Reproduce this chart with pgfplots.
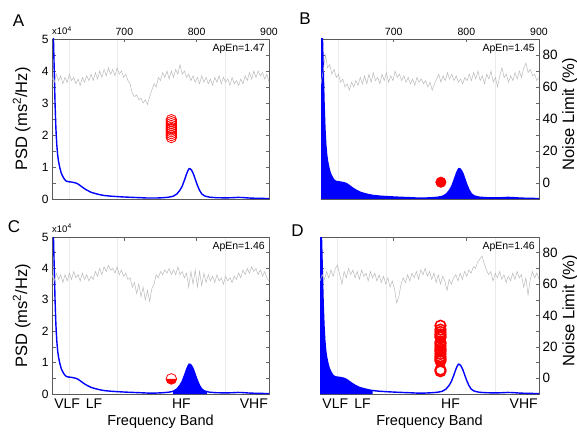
\documentclass[border=0pt]{standalone}
\usepackage{fontspec}
\setmainfont{Liberation Sans}
\usepackage{pgfplots}
\usepackage{pgfplotstable}
\pgfplotsset{compat=1.18}
\usetikzlibrary{plotmarks}

% PSD spectrum (Hz, x10^4 ms^2/Hz), same in all four panels
\pgfplotstableread{
f p
0.000 9.0
0.002 6.5
0.003 5.2
0.005 4.1
0.007 3.0
0.009 2.2
0.011 1.7
0.013 1.38
0.015 1.18
0.018 0.98
0.021 0.82
0.025 0.70
0.029 0.61
0.033 0.56
0.038 0.54
0.045 0.53
0.052 0.51
0.057 0.49
0.062 0.45
0.068 0.39
0.074 0.33
0.080 0.28
0.090 0.21
0.100 0.17
0.110 0.135
0.120 0.11
0.134 0.09
0.150 0.075
0.170 0.06
0.187 0.05
0.205 0.04
0.220 0.03
0.240 0.03
0.255 0.04
0.268 0.055
0.279 0.085
0.288 0.16
0.295 0.28
0.300 0.40
0.306 0.62
0.310 0.78
0.313 0.88
0.316 0.95
0.319 0.94
0.322 0.89
0.326 0.78
0.330 0.62
0.335 0.43
0.340 0.27
0.345 0.16
0.351 0.10
0.357 0.075
0.364 0.055
0.380 0.04
0.400 0.035
0.415 0.04
0.428 0.05
0.440 0.045
0.455 0.03
0.475 0.02
0.500 0.015
}\psd

\pgfplotsset{
  base/.style={scale only axis, anchor=north west,
    /pgf/number format/assume math mode=true,
    tick style={black!60, line width=0.5pt},
    major tick length=3.5pt, minor tick length=3.5pt,
    label style={font=\fontsize{16.5}{16.5}\selectfont}},
  psdax/.style={base, xmin=0, xmax=0.5, ymin=0, ymax=5,
    ytick={0,1,2,3,4,5}, minor y tick num=1,
    xtick={0.04,0.15,0.4}, xticklabels={},
    xmajorgrids, major grid style={black!8, line width=0.4pt},
    xtick style={draw=none},
    axis line style={black!65, line width=0.6pt},
    yticklabel style={font=\fontsize{12}{12}\selectfont},
    xticklabel style={font=\fontsize{14}{14}\selectfont, yshift=-1pt}},
  bands/.style={extra x ticks={0.035,0.097,0.298,0.465},
    extra x tick labels={VLF,LF,HF,VHF},
    extra x tick style={grid=none, tick style={draw=none}},
    xlabel={Frequency Band},
    xlabel style={at={(axis description cs:0.5,-0.175)}, anchor=center,
      font=\fontsize{14.5}{14.5}\selectfont}},
  psdlab/.style={ylabel={PSD (ms\textsuperscript{2}/Hz)},
    ylabel style={at={(axis description cs:-0.14,0.5)}, anchor=center}},
  noiseax/.style={base, xmin=600, xmax=900, ymin=-10, ymax=90,
    axis x line*=top, axis y line*=right, axis line style={draw=none},
    xtick={700,800,900}, tick align=inside, ytick=\empty,
    ytick style={draw=none},
    xticklabel style={font=\fontsize{10.5}{10.5}\selectfont},
    yticklabel style={font=\fontsize{13.5}{13.5}\selectfont}},
  noiselab/.style={ytick={0,20,40,60,80}, ylabel={Noise Limit (\%)},
    ylabel style={at={(axis description cs:1.142,0.53)}, anchor=center}},
  trace/.style={black!27, line width=0.5pt},
}

\begin{document}
\begin{tikzpicture}
\useasboundingbox (0,0) rectangle (577pt,-433pt);

% ---------------- A ----------------
\begin{axis}[psdax, psdlab, at={(52pt,-39pt)}, width=217pt, height=160pt]
  \addplot[blue, line width=1.4pt] table[x=f, y=p] {\psd};
\end{axis}
\begin{axis}[noiseax, at={(52pt,-39pt)}, width=217pt, height=160pt]
  \addplot[trace] table[row sep=\\] {x y\\
600 66\\ 603 63\\ 606 68\\ 609 64\\ 612 67\\ 615 62\\ 618 66\\ 621 63\\ 624 68\\ 627 64\\
630 66\\ 633 62\\ 636 65\\ 639 61\\ 642 66\\ 645 63\\ 648 67\\ 651 64\\ 654 68\\ 657 64\\
660 69\\ 663 65\\ 666 70\\ 669 66\\ 672 71\\ 675 67\\ 678 72\\ 681 68\\ 684 71\\ 687 67\\
690 72\\ 693 68\\ 696 70\\ 699 66\\ 702 68\\ 705 64\\ 708 62\\ 711 56\\ 714 54\\ 717 55\\
720 52\\ 723 53\\ 726 50\\ 729 52\\ 732 49\\ 735 54\\ 738 58\\ 741 62\\ 744 60\\ 747 66\\
750 64\\ 753 69\\ 756 66\\ 759 70\\ 762 65\\ 765 70\\ 768 66\\ 771 71\\ 774 68\\ 777 74\\
780 68\\ 783 70\\ 786 66\\ 789 68\\ 792 64\\ 795 67\\ 798 63\\ 801 66\\ 804 62\\ 807 67\\
810 63\\ 813 66\\ 816 62\\ 819 65\\ 822 61\\ 825 66\\ 828 63\\ 831 67\\ 834 62\\ 837 66\\
840 63\\ 843 65\\ 846 61\\ 849 66\\ 852 62\\ 855 64\\ 858 61\\ 861 65\\ 864 62\\ 867 67\\
870 64\\ 873 69\\ 876 65\\ 879 70\\ 882 66\\ 885 70\\ 888 67\\ 891 69\\ 894 65\\ 897 68\\
900 63\\};
  \addplot[only marks, mark=o, red, mark size=5.3pt, line width=0.8pt] table[row sep=\\] {x y\\
765 28.5\\ 765 29.7\\ 765 30.9\\ 765 32.1\\ 765 33.2\\ 765 34\\ 765 34.8\\ 765 35.9\\ 765 37.1\\ 765 38.3\\ 765 39.5\\};
\end{axis}

% ---------------- B ----------------
\begin{axis}[psdax, yticklabels={}, at={(321pt,-39pt)}, width=218pt, height=160pt]
  \addplot[draw=none, fill=blue] table[x=f, y=p] {\psd} \closedcycle;
  \addplot[blue, line width=1.4pt] table[x=f, y=p] {\psd};
\end{axis}
\begin{axis}[noiseax, noiselab, at={(321pt,-39pt)}, width=218pt, height=160pt]
  \addplot[trace] table[row sep=\\] {x y\\
600 62\\ 603 70\\ 606 80\\ 609 72\\ 612 74\\ 615 68\\ 618 71\\ 621 66\\ 624 68\\ 627 63\\
630 65\\ 633 60\\ 636 62\\ 639 58\\ 642 63\\ 645 60\\ 648 64\\ 651 61\\ 654 66\\ 657 62\\
660 67\\ 663 62\\ 666 68\\ 669 63\\ 672 69\\ 675 64\\ 678 66\\ 681 62\\ 684 68\\ 687 64\\
690 69\\ 693 63\\ 696 67\\ 699 64\\ 702 70\\ 705 66\\ 708 68\\ 711 64\\ 714 67\\ 717 63\\
720 66\\ 723 62\\ 726 65\\ 729 61\\ 732 66\\ 735 63\\ 738 65\\ 741 62\\ 744 64\\ 747 60\\
750 63\\ 753 58\\ 756 62\\ 759 65\\ 762 68\\ 765 63\\ 768 67\\ 771 64\\ 774 69\\ 777 65\\
780 68\\ 783 64\\ 786 67\\ 789 63\\ 792 65\\ 795 62\\ 798 66\\ 801 64\\ 804 68\\ 807 64\\
810 69\\ 813 65\\ 816 70\\ 819 64\\ 822 67\\ 825 62\\ 828 68\\ 831 65\\ 834 70\\ 837 63\\
840 66\\ 843 60\\ 846 67\\ 849 72\\ 852 66\\ 855 68\\ 858 63\\ 861 67\\ 864 64\\ 867 69\\
870 65\\ 873 70\\ 876 66\\ 879 72\\ 882 75\\ 885 69\\ 888 71\\ 891 67\\ 894 68\\ 897 64\\
900 66\\};
  \addplot[only marks, mark=*, red, mark size=5.3pt] coordinates {(765,0.5)};
\end{axis}

% ---------------- C ----------------
\begin{axis}[psdax, psdlab, bands, at={(52pt,-237pt)}, width=217pt, height=157pt]
  \addplot[draw=none, fill=blue, restrict x to domain=0.279:0.357] table[x=f, y=p] {\psd} \closedcycle;
  \addplot[blue, line width=1.4pt] table[x=f, y=p] {\psd};
\end{axis}
\begin{axis}[noiseax, xticklabels={}, at={(52pt,-237pt)}, width=217pt, height=157pt]
  \addplot[trace] table[row sep=\\] {x y\\
600 66\\ 603 62\\ 606 67\\ 609 63\\ 612 66\\ 615 61\\ 618 66\\ 621 62\\ 624 67\\ 627 63\\
630 68\\ 633 64\\ 636 66\\ 639 62\\ 642 67\\ 645 63\\ 648 66\\ 651 62\\ 654 65\\ 657 63\\
660 68\\ 663 65\\ 666 70\\ 669 66\\ 672 71\\ 675 68\\ 678 72\\ 681 69\\ 684 70\\ 687 67\\
690 71\\ 693 66\\ 696 69\\ 699 65\\ 702 67\\ 705 63\\ 708 64\\ 711 58\\ 714 61\\ 717 54\\
720 60\\ 723 52\\ 726 58\\ 729 50\\ 732 56\\ 735 49\\ 738 57\\ 741 60\\ 744 66\\ 747 64\\
750 68\\ 753 66\\ 756 69\\ 759 67\\ 762 70\\ 765 66\\ 768 69\\ 771 66\\ 774 71\\ 777 66\\
780 68\\ 783 64\\ 786 67\\ 789 58\\ 792 68\\ 795 60\\ 798 69\\ 801 58\\ 804 68\\ 807 59\\
810 67\\ 813 61\\ 816 66\\ 819 62\\ 822 65\\ 825 61\\ 828 66\\ 831 62\\ 834 64\\ 837 60\\
840 65\\ 843 62\\ 846 64\\ 849 61\\ 852 65\\ 855 63\\ 858 67\\ 861 64\\ 864 69\\ 867 66\\
870 70\\ 873 67\\ 876 71\\ 879 68\\ 882 70\\ 885 66\\ 888 69\\ 891 65\\ 894 68\\ 897 64\\
900 62\\};
  \addplot[only marks, mark=halfcircle*, mark size=5.3pt, line width=0.8pt,
    mark options={draw=red, fill=white, mark color=red}] coordinates {(765,-0.4)};
\end{axis}

% ---------------- D ----------------
\begin{axis}[psdax, yticklabels={}, bands, at={(320pt,-237pt)}, width=219pt, height=157pt]
  \addplot[draw=none, fill=blue, restrict x to domain=0:0.12] table[x=f, y=p] {\psd} \closedcycle;
  \addplot[blue, line width=1.4pt] table[x=f, y=p] {\psd};
\end{axis}
\begin{axis}[noiseax, noiselab, xticklabels={}, at={(320pt,-237pt)}, width=219pt, height=157pt]
  \addplot[trace] table[row sep=\\] {x y\\
600 62\\ 603 66\\ 606 63\\ 609 68\\ 612 64\\ 615 69\\ 618 65\\ 621 70\\ 624 72\\ 627 66\\
630 60\\ 633 68\\ 636 64\\ 639 70\\ 642 66\\ 645 69\\ 648 64\\ 651 68\\ 654 63\\ 657 69\\
660 65\\ 663 67\\ 666 62\\ 669 68\\ 672 64\\ 675 67\\ 678 62\\ 681 66\\ 684 61\\ 687 65\\
690 60\\ 693 64\\ 696 58\\ 699 62\\ 702 57\\ 705 48\\ 708 52\\ 711 60\\ 714 64\\ 717 61\\
720 66\\ 723 62\\ 726 67\\ 729 64\\ 732 68\\ 735 63\\ 738 69\\ 741 66\\ 744 70\\ 747 65\\
750 68\\ 753 63\\ 756 67\\ 759 61\\ 762 66\\ 765 60\\ 768 65\\ 771 62\\ 774 56\\ 777 63\\
780 60\\ 783 64\\ 786 66\\ 789 62\\ 792 67\\ 795 63\\ 798 68\\ 801 65\\ 804 69\\ 807 67\\
810 71\\ 813 70\\ 816 74\\ 819 76\\ 822 78\\ 825 73\\ 828 69\\ 831 66\\ 834 68\\ 837 62\\
840 67\\ 843 64\\ 846 68\\ 849 63\\ 852 66\\ 855 61\\ 858 65\\ 861 62\\ 864 67\\ 867 63\\
870 68\\ 873 64\\ 876 66\\ 879 58\\ 882 64\\ 885 53\\ 888 63\\ 891 68\\ 894 64\\ 897 67\\
900 63\\};
  \addplot[only marks, mark=o, red, mark size=5.3pt, line width=1.6pt] table[row sep=\\] {x y\\
765 4.5\\ 765 5.5\\ 765 11\\ 765 12\\ 765 13\\ 765 14\\ 765 15.5\\ 765 17\\ 765 18\\ 765 19\\
765 20.5\\ 765 22\\ 765 23\\ 765 26\\ 765 27\\ 765 28\\ 765 29.5\\ 765 31\\ 765 33.5\\};
\end{axis}

% panel letters and annotations
\begin{scope}[font=\fontsize{17}{17}\selectfont]
  \node at (18.5pt,-21pt) {A};
  \node at (305pt,-18.5pt) {B};
  \node at (14pt,-226.5pt) {C};
  \node at (297.5pt,-231pt) {D};
\end{scope}
\begin{scope}[font=\fontsize{9.5}{9.5}\selectfont, inner sep=0pt]
  \node[anchor=base west] at (52pt,-35pt) {x10\textsuperscript{4}};
  \node[anchor=base west] at (52pt,-232pt) {x10\textsuperscript{4}};
\end{scope}
\begin{scope}[font=\fontsize{10.5}{10.5}\selectfont, inner sep=0pt]
  \node[anchor=east] at (265pt,-49pt) {ApEn=1.47};
  \node[anchor=east] at (535pt,-49pt) {ApEn=1.45};
  \node[anchor=east] at (265pt,-247pt) {ApEn=1.46};
  \node[anchor=east] at (535pt,-247pt) {ApEn=1.46};
\end{scope}
\end{tikzpicture}
\end{document}
